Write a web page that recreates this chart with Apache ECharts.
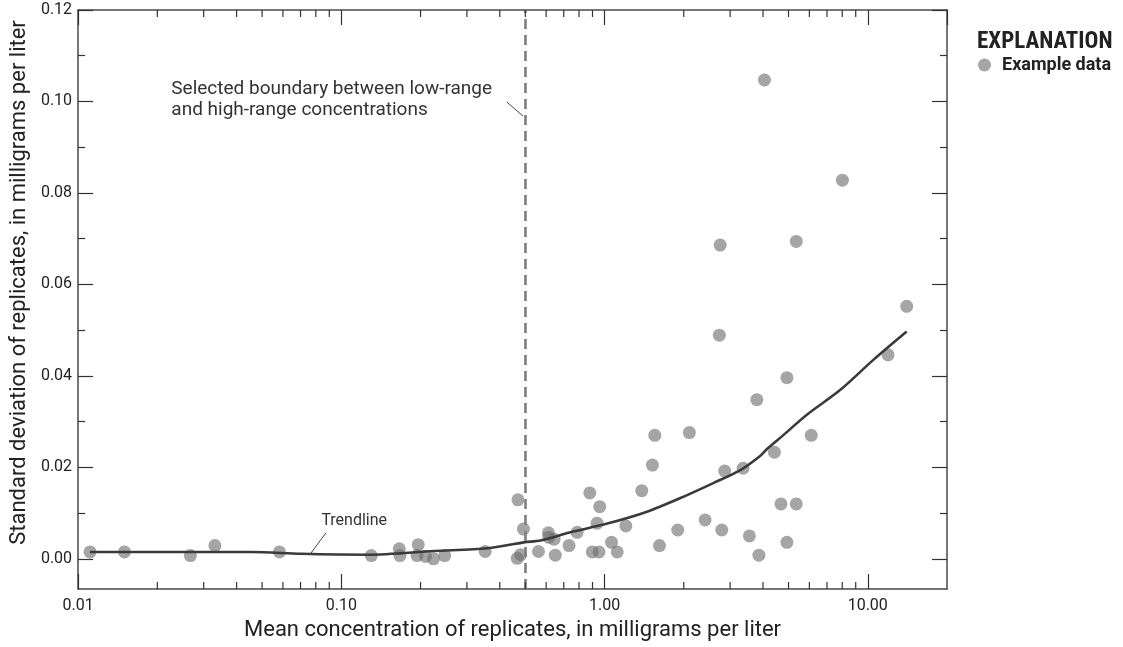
<!DOCTYPE html>
<html><head><meta charset="utf-8">
<script src="https://cdn.jsdelivr.net/npm/echarts@6/dist/echarts.min.js"></script>
<style>html,body{margin:0;padding:0;background:#fff}#c{width:1123px;height:647px}</style>
</head><body><div id="c"></div>
<script>
const FONT = "Roboto,'Liberation Sans',sans-serif";
const CFONT = "'Roboto Condensed','Liberation Sans Narrow','DejaVu Sans Condensed',Roboto,sans-serif";

// Example data: mean concentration (mg/L) and standard deviation of replicates (mg/L)
const concX = [0.0111,0.0150,0.0267,0.0331,0.0582,0.130,0.166,0.167,0.196,0.194,0.209,0.224,0.247,0.352,
  0.469,0.492,0.466,0.480,0.561,0.612,0.614,0.643,0.650,0.733,0.787,0.879,0.959,0.937,0.898,0.953,
  1.063,1.117,1.205,1.385,1.52,1.552,1.617,1.897,2.10,2.41,2.79,2.86,3.36,3.55,3.79,3.86,2.73,4.05,
  2.75,8.01,5.35,14.06,11.94,4.93,6.10,4.42,4.68,5.35,4.93];
const sdY = [0.0015,0.0015,0.0007,0.0029,0.0015,0.0007,0.0022,0.0007,0.0031,0.0007,0.0005,0.0000,0.0007,0.0016,
  0.0129,0.0065,0.0001,0.0009,0.0016,0.0057,0.0047,0.0043,0.0008,0.0029,0.0058,0.0144,0.0114,0.0078,0.0015,0.0015,
  0.0036,0.0015,0.0072,0.0149,0.0205,0.0270,0.0029,0.0063,0.0276,0.0085,0.0063,0.0192,0.0198,0.0050,0.0348,0.0008,0.0489,0.1047,
  0.0686,0.0828,0.0694,0.0552,0.0446,0.0396,0.0270,0.0233,0.0120,0.0120,0.0036];

// Trendline
const trendX = [0.0111,0.019,0.0455,0.0703,0.126,0.225,0.36,0.493,0.572,0.743,1.024,1.45,2.0,2.6,3.28,3.9,4.14,4.79,5.87,7.85,10.5,14.06];
const trendY = [0.0015,0.0015,0.0015,0.0011,0.0009,0.0017,0.0023,0.0036,0.0040,0.0058,0.0077,0.0103,0.0136,0.0166,0.0194,0.0225,0.0240,0.0271,0.0315,0.0369,0.0435,0.0497];

// Axis ticks
const xMinorTicks = [0.02,0.03,0.04,0.05,0.06,0.07,0.08,0.09,0.2,0.3,0.4,0.5,0.6,0.7,0.8,0.9,2,3,4,5,6,7,8,9];
const yMajorTicks = [0,0.02,0.04,0.06,0.08,0.10,0.12];
const yMinorTicks = [0.01,0.03,0.05,0.07,0.09,0.11];
const boundaryX = 0.5;

// Annotation anchors (data units)
const trendLabelAt = [0.084, 0.0079];
const trendLeader = [[0.0875,0.0057],[0.0763,0.0011]];
const boundaryLabelAt = [0.0226, 0.1003];
const boundaryLeader = [[0.425,0.0999],[0.49,0.0968]];

const X_MIN = 0.01, X_MAX = 20, Y_MIN = -0.0066, Y_MAX = 0.12;
const AX = '#4a4a4a', TXT = '#222';

const chart = echarts.init(document.getElementById('c'));

function xAxisCfg(pos, labels){
  return {type:'log', logBase:10, position:pos, min:X_MIN, max:X_MAX,
    axisLine:{show:true, onZero:false, lineStyle:{color:AX, width:1.5}},
    axisTick:{show:true, inside:true, length:15, lineStyle:{color:'#333', width:1.2}},
    axisLabel:{show:labels, showMaxLabel:false, margin:9, color:TXT, fontFamily:FONT, fontSize:16,
      formatter: v => Number(v).toFixed(2)},
    splitLine:{show:false}, minorTick:{show:false},
    name: labels ? 'Mean concentration of replicates, in milligrams per liter' : '',
    nameLocation:'middle', nameGap:30,
    nameTextStyle:{color:TXT, fontFamily:FONT, fontSize:22}
  };
}
function yAxisCfg(pos, ticks, len, line, labels){
  return {type:'value', position:pos, min:Y_MIN, max:Y_MAX,
    axisLine:{show:line, onZero:false, lineStyle:{color:AX, width:1.5}},
    axisTick:{show:true, inside:true, length:len, customValues:ticks, lineStyle:{color:'#333', width:1.2}},
    axisLabel:{show:labels, customValues:ticks, margin:6, color:TXT, fontFamily:FONT, fontSize:16,
      formatter: v => Number(v).toFixed(2)},
    splitLine:{show:false},
    name: labels ? 'Standard deviation of replicates, in milligrams per liter' : '',
    nameLocation:'middle', nameGap:47,
    nameTextStyle:{color:TXT, fontFamily:FONT, fontSize:22, padding:[0,0,0,34]}
  };
}

chart.setOption({
  animation:false,
  backgroundColor:'#fff',
  grid:{left:77, right:176, top:10, bottom:58, containLabel:false},
  title:{text:'EXPLANATION', left:977, top:31, padding:0,
    textStyle:{fontFamily:CFONT, fontWeight:'bold', fontSize:23, color:'#222'}},
  legend:{data:['Example data'], left:978, top:56, padding:0, itemWidth:13, itemHeight:13, icon:'circle',
    textStyle:{fontFamily:FONT, fontWeight:'bold', fontSize:18, color:'#222', padding:[0,0,0,6]}},
  xAxis:[xAxisCfg('bottom', true), xAxisCfg('top', false)],
  yAxis:[yAxisCfg('left', yMajorTicks, 15, true, true), yAxisCfg('right', yMajorTicks, 15, true, false),
         yAxisCfg('left', yMinorTicks, 7, false, false), yAxisCfg('right', yMinorTicks, 7, false, false)],
  series:[
    {name:'minor x ticks', type:'custom', silent:true, xAxisIndex:0, yAxisIndex:0, clip:false, z:5,
      data: xMinorTicks.map(v => [v, 0]),
      renderItem(params, api){
        const x = api.coord([api.value(0), 0])[0];
        const cs = params.coordSys;
        const st = {stroke:'#333', lineWidth:1.2};
        return {type:'group', children:[
          {type:'line', shape:{x1:x, y1:cs.y+cs.height, x2:x, y2:cs.y+cs.height-7}, style:st},
          {type:'line', shape:{x1:x, y1:cs.y, x2:x, y2:cs.y+7}, style:st}
        ]};
      }},
    {name:'Example data', type:'scatter', xAxisIndex:0, yAxisIndex:0, symbolSize:13, z:3,
      itemStyle:{color:'#6d6d6d', opacity:0.62},
      data: concX.map((x,i) => [x, sdY[i]]),
      markLine:{silent:true, symbol:['none','none'], label:{show:false},
        lineStyle:{type:[10,6], color:'#7f7f7f', width:2.6},
        data:[{xAxis:boundaryX}]}},
    {name:'Trendline', type:'line', xAxisIndex:0, yAxisIndex:0, smooth:0.3, showSymbol:false, z:4,
      lineStyle:{color:'#3a3a3a', width:2.6},
      data: trendX.map((x,i) => [x, trendY[i]]),
      markLine:{silent:true, symbol:['none','none'], label:{show:false},
        lineStyle:{type:'solid', color:'#444', width:1},
        data:[[{coord:trendLeader[0]},{coord:trendLeader[1]}],[{coord:boundaryLeader[0]},{coord:boundaryLeader[1]}]]}}
  ]
});

const p1 = chart.convertToPixel({xAxisIndex:0, yAxisIndex:0}, trendLabelAt);
const p2 = chart.convertToPixel({xAxisIndex:0, yAxisIndex:0}, boundaryLabelAt);
chart.setOption({graphic:[
  {type:'text', left:p1[0], top:p1[1]-10, silent:true,
    style:{text:'Trendline', fill:'#333', font:"16px "+FONT}},
  {type:'text', left:p2[0], top:p2[1]-21, silent:true,
    style:{text:'Selected boundary between low-range\nand high-range concentrations', fill:'#333',
      font:"19px "+FONT, lineHeight:21}}
]});
</script></body></html>
